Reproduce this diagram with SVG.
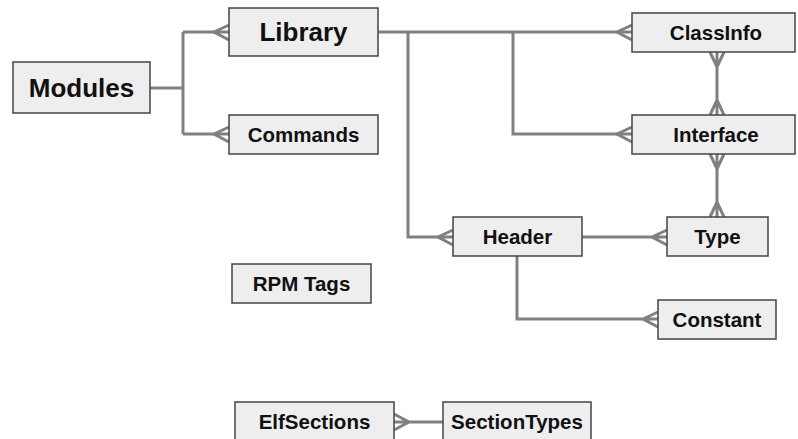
<svg xmlns="http://www.w3.org/2000/svg" width="798" height="439" viewBox="0 0 798 439">
<style>
.box{fill:#eeeeee;stroke:#444444;stroke-width:1.5}
.t{font-family:"Liberation Sans",Arial,sans-serif;font-weight:bold;font-size:20.5px;fill:#111;text-anchor:middle;dominant-baseline:central}
.big{font-size:26px}
.c{fill:none;stroke:#808080;stroke-width:3;stroke-linejoin:miter}
</style>
<rect width="798" height="439" fill="#ffffff"/>
<g id="connectors">
<path class="c" d="M150,88 H183 M183,32 V134 M183,32 H229 M183,134 H229"/>
<path class="c" d="M229,25 L214,32 L229,40"/>
<path class="c" d="M229,127 L214,134 L229,142"/>
<path class="c" d="M378,32 H632 M513,32 V134 H632 M408,32 V237 H453"/>
<path class="c" d="M632,25 L617,32 L632,40"/>
<path class="c" d="M632,127 L617,134 L632,142"/>
<path class="c" d="M453,230 L438,237 L453,245"/>
<path class="c" d="M717,52 V115 M710,52 L717,67 L724,52 M710,115 L717,100 L724,115"/>
<path class="c" d="M717,154 V217 M710,154 L717,169 L724,154 M710,217 L717,202 L724,217"/>
<path class="c" d="M582,237 H667 M667,230 L652,237 L667,245"/>
<path class="c" d="M517,256 V319 H658 M658,312 L643,319 L658,327"/>
<path class="c" d="M394,422 H443 M394,414 L409,422 L394,430"/>
</g>
<g id="Modules"><rect class="box" x="13" y="62" width="137" height="51"/><text class="t big" x="81.5" y="88">Modules</text></g>
<g id="Library"><rect class="box" x="229" y="8" width="149" height="48"/><text class="t big" x="303.5" y="32">Library</text></g>
<g id="Commands"><rect class="box" x="229" y="115" width="149" height="39"/><text class="t" x="303.5" y="134.5">Commands</text></g>
<g id="ClassInfo"><rect class="box" x="632" y="13" width="163" height="39"/><text class="t" x="716" y="32.5">ClassInfo</text></g>
<g id="Interface"><rect class="box" x="632" y="115" width="163" height="39"/><text class="t" x="716" y="134.5">Interface</text></g>
<g id="Header"><rect class="box" x="453" y="217" width="129" height="39"/><text class="t" x="517.5" y="236.5">Header</text></g>
<g id="Type"><rect class="box" x="667" y="217" width="101" height="39"/><text class="t" x="717.5" y="236.5">Type</text></g>
<g id="Constant"><rect class="box" x="658" y="300" width="118" height="39"/><text class="t" x="717" y="319.5">Constant</text></g>
<g id="RPMTags"><rect class="box" x="232" y="264" width="139" height="39"/><text class="t" x="301.5" y="283.5">RPM Tags</text></g>
<g id="ElfSections"><rect class="box" x="235" y="402" width="159" height="45"/><text class="t" x="314.5" y="421.5">ElfSections</text></g>
<g id="SectionTypes"><rect class="box" x="443" y="402" width="148" height="45"/><text class="t" x="517" y="421.5">SectionTypes</text></g>
</svg>
